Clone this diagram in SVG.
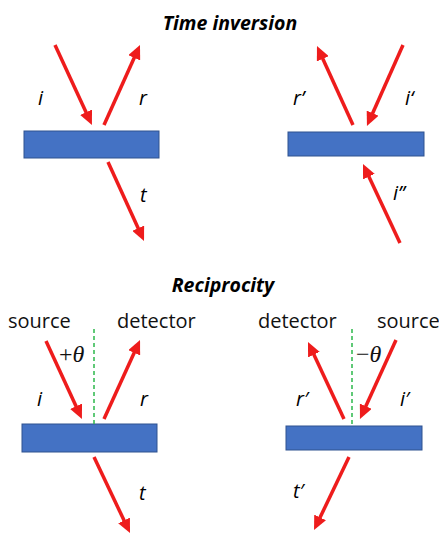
<svg xmlns="http://www.w3.org/2000/svg" width="439" height="535" viewBox="0 0 439 535">
<style>
.title{font-family:"Open Sans","Liberation Sans",sans-serif;font-weight:bold;font-style:italic;font-size:19.5px;fill:#000;text-anchor:middle}
.lbl{font-family:"Open Sans","Liberation Sans",sans-serif;font-style:italic;font-size:20px;fill:#000}
.word{font-family:"Open Sans","Liberation Sans",sans-serif;font-size:20px;fill:#111}
.ang{font-family:"Liberation Serif","DejaVu Serif",serif;font-size:24px;fill:#111}
.plate{fill:#4472C4;stroke:#2F528F;stroke-width:1}
.ray{stroke:#EE1C1C;stroke-width:3.5;fill:none;marker-end:url(#ah)}
.norm{stroke:#2DB84B;stroke-width:1.5;stroke-dasharray:4 3;fill:none}
</style>
<defs>
<marker id="ah" markerUnits="userSpaceOnUse" markerWidth="15" markerHeight="13" viewBox="0 0 15 13" refX="6" refY="6.5" orient="auto">
<path d="M0,0 L14,6.5 L0,13 z" fill="#EE1C1C"/>
</marker>
</defs>
<text class="title" x="230" y="30">Time inversion</text>
<text class="title" x="223" y="292">Reciprocity</text>
<g id="plate1"><rect class="plate" x="24" y="131" width="135" height="27"/></g>
<g id="plate2"><rect class="plate" x="288" y="132" width="136" height="24"/></g>
<g id="plate3"><rect class="plate" x="22" y="424" width="135" height="28"/></g>
<g id="plate4"><rect class="plate" x="286" y="426" width="136" height="24"/></g>
<g id="normals">
<line class="norm" x1="94" y1="329" x2="94" y2="424"/>
<line class="norm" x1="352" y1="329" x2="352" y2="426"/>
</g>
<g id="connectors">
<line class="ray" x1="55" y1="45" x2="88.6" y2="117.7"/>
<line class="ray" x1="104" y1="125" x2="136.7" y2="52.3"/>
<line class="ray" x1="108" y1="162" x2="140.7" y2="233.7"/>
<line class="ray" x1="353" y1="125" x2="320.3" y2="53.3"/>
<line class="ray" x1="403" y1="45" x2="370.2" y2="118.7"/>
<line class="ray" x1="400" y1="243" x2="366.4" y2="171.2"/>
<line class="ray" x1="46" y1="341" x2="78.6" y2="411.7"/>
<line class="ray" x1="104" y1="419" x2="136.7" y2="347.3"/>
<line class="ray" x1="94" y1="457" x2="126.6" y2="525.8"/>
<line class="ray" x1="344" y1="419" x2="311.4" y2="349.2"/>
<line class="ray" x1="396" y1="340" x2="363.3" y2="411.7"/>
<line class="ray" x1="349" y1="457" x2="317.5" y2="522.8"/>
</g>
<g id="labels">
<text class="lbl" x="38" y="105">i</text>
<text class="lbl" x="139" y="105">r</text>
<text class="lbl" x="140" y="202">t</text>
<text class="lbl" x="293" y="105">r’</text>
<text class="lbl" x="405" y="105">i‘</text>
<text class="lbl" x="393" y="200">i’’</text>
<text class="lbl" x="37" y="406">i</text>
<text class="lbl" x="140" y="406">r</text>
<text class="lbl" x="139" y="500">t</text>
<text class="lbl" x="296" y="406">r′</text>
<text class="lbl" x="400" y="406">i′</text>
<text class="lbl" x="293" y="498">t′</text>
<text class="word" x="8" y="328">source</text>
<text class="word" x="117" y="328">detector</text>
<text class="word" x="258" y="328">detector</text>
<text class="word" x="377" y="328">source</text>
<text class="ang" x="59" y="362">+<tspan font-style="italic">θ</tspan></text>
<text class="ang" x="356" y="362">−<tspan font-style="italic">θ</tspan></text>
</g>
</svg>
